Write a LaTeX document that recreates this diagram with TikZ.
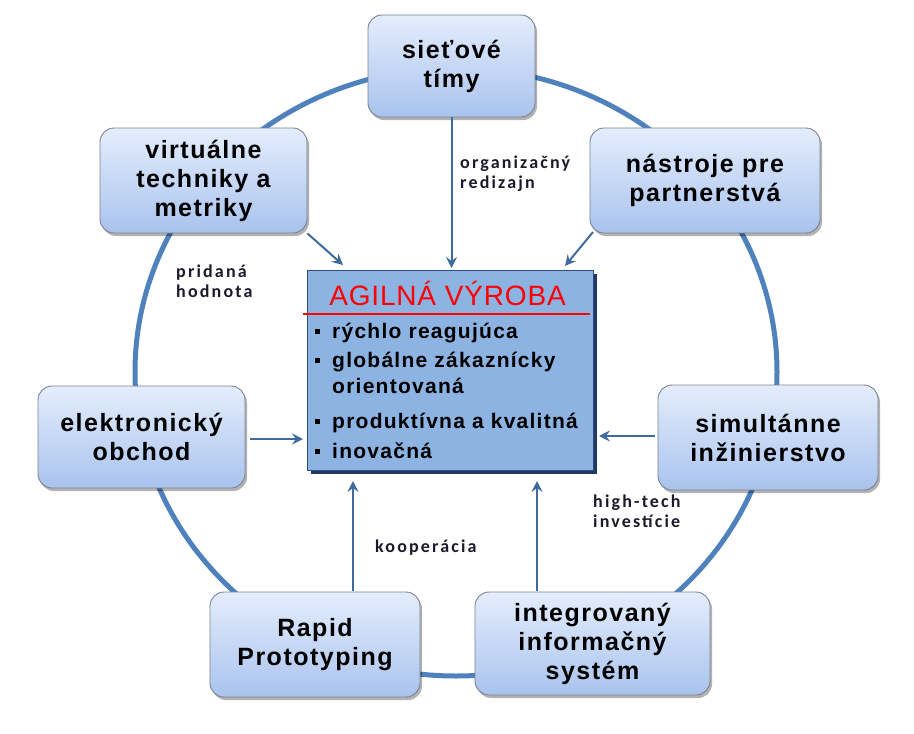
\documentclass[tikz,border=0pt]{standalone}
\usepackage{fontspec}
\setmainfont{Liberation Sans}
\newfontfamily\boxfont[LetterSpace=6]{Liberation Sans}
\newfontfamily\itemfont[LetterSpace=6]{Liberation Sans}
\newfontfamily\titlefont[LetterSpace=3]{Liberation Sans}
\newfontfamily\lblfont[LetterSpace=12]{Carlito}
\usetikzlibrary{arrows.meta,shadows,calc}
\definecolor{boxtop}{HTML}{E4EDFC}
\definecolor{boxbot}{HTML}{A9C3EE}
\definecolor{boxline}{HTML}{7A8290}
\definecolor{ringc}{HTML}{4F81BD}
\definecolor{arrc}{HTML}{3F6A9E}
\definecolor{agfill}{HTML}{8DB3E2}
\definecolor{agline}{HTML}{2E4F7E}
\definecolor{agshadow}{HTML}{1F3864}
\definecolor{lbltext}{HTML}{1A1A2A}
\tikzset{
  outerbox/.style={draw=boxline, line width=0.9pt, rounded corners=14pt,
    top color=boxtop, bottom color=boxbot, align=center, inner sep=0pt,
    font=\boxfont\bfseries\fontsize{25}{29}\selectfont,
    drop shadow={shadow xshift=2pt, shadow yshift=-3pt, opacity=0.3, fill=black}},
  agbox/.style={draw=agline, line width=1pt, fill=agfill, inner sep=0pt,
    drop shadow={shadow xshift=4pt, shadow yshift=-4pt, opacity=1, fill=agshadow}},
  ring/.style={draw=ringc, line width=5pt},
  arr/.style={draw=arrc, line width=2pt, -{Stealth[length=11pt,width=11pt,inset=4pt]}},
  lbl/.style={font=\lblfont\bfseries\fontsize{18}{20}\selectfont, text=lbltext, align=left, inner sep=0pt},
  itm/.style={font=\itemfont\bfseries\fontsize{21}{24}\selectfont, text=black, inner sep=0pt, anchor=base west},
  bul/.style={fill=black, minimum size=5pt, inner sep=0pt},
}
\begin{document}
\begin{tikzpicture}[x=1pt,y=-1pt]
\useasboundingbox (0,0) rectangle (914,734);
% ring
\draw[ring] (456,372) ellipse [x radius=321pt, y radius=304pt];
% boxes
\node[outerbox, minimum width=167pt, minimum height=102pt] (net) at (451.5,66) {sieťové\\tímy};
\node[outerbox, minimum width=207pt, minimum height=105pt] (virt) at (203.5,180.5) {virtuálne\\techniky a\\metriky};
\node[outerbox, minimum width=230pt, minimum height=105pt] (nast) at (705,180.5) {nástroje pre\\partnerstvá};
\node[outerbox, minimum width=207pt, minimum height=102pt] (elek) at (141.5,437) {elektronický\\obchod};
\node[outerbox, minimum width=220pt, minimum height=105pt] (simu) at (768,437.5) {simultánne\\inžinierstvo};
\node[outerbox, minimum width=210pt, minimum height=105pt] (rapid) at (315,644.5) {Rapid\\Prototyping};
\node[outerbox, minimum width=235pt, minimum height=103pt] (integ) at (592.5,643.5) {integrovaný\\informačný\\systém};
% central box
\node[agbox, minimum width=286pt, minimum height=200pt] (agile) at (450,370) {};
\node[anchor=base, text=red, font=\titlefont\fontsize{28}{30}\selectfont, inner sep=0pt] (title) at (447.5,305) {AGILNÁ VÝROBA};
\coordinate (rl) at (303,314);
\coordinate (rr) at (590,314);
\draw[red, line width=1.6pt] (rl) -- (rr);
\node[itm] (i1) at (332,338) {rýchlo reagujúca};
\node[itm] (i2) at (332,367) {globálne zákaznícky};
\node[itm] (i2b) at (332,393) {orientovaná};
\node[itm] (i3) at (332,428) {produktívna a kvalitná};
\node[itm] (i4) at (332,458) {inovačná};
\node[bul] (b1) at (317,331) {};
\node[bul] (b2) at (317,360) {};
\node[bul] (b3) at (317,421) {};
\node[bul] (b4) at (317,451) {};
% arrows
\coordinate (tnet) at (451.5,268);
\coordinate (tvirt) at (343,265);
\coordinate (snast) at (593,232);
\coordinate (tnast) at (565,266);
\coordinate (selek) at (250,439);
\coordinate (telek) at (303,439);
\coordinate (ssimu) at (655,436);
\coordinate (tsimu) at (599,436);
\coordinate (srap) at (353,591);
\coordinate (trap) at (353,481);
\coordinate (sint) at (537,591);
\coordinate (tint) at (537,481);
\draw[arr] (net.south) -- (tnet);
\draw[arr] (virt.south east) -- (tvirt);
\draw[arr] (snast) -- (tnast);
\draw[arr] (selek) -- (telek);
\draw[arr] (ssimu) -- (tsimu);
\draw[arr] (srap) -- (trap);
\draw[arr] (sint) -- (tint);
% labels
\node[lbl, anchor=base west] (l1) at (460,188) {organizačný\\redizajn};
\node[lbl, anchor=base west] (l2) at (176,297) {pridaná\\hodnota};
\node[lbl, anchor=base west] (l3) at (375,552) {kooperácia};
\node[lbl, anchor=base west] (l4) at (593,527) {high-tech\\investície};
\end{tikzpicture}
\end{document}
